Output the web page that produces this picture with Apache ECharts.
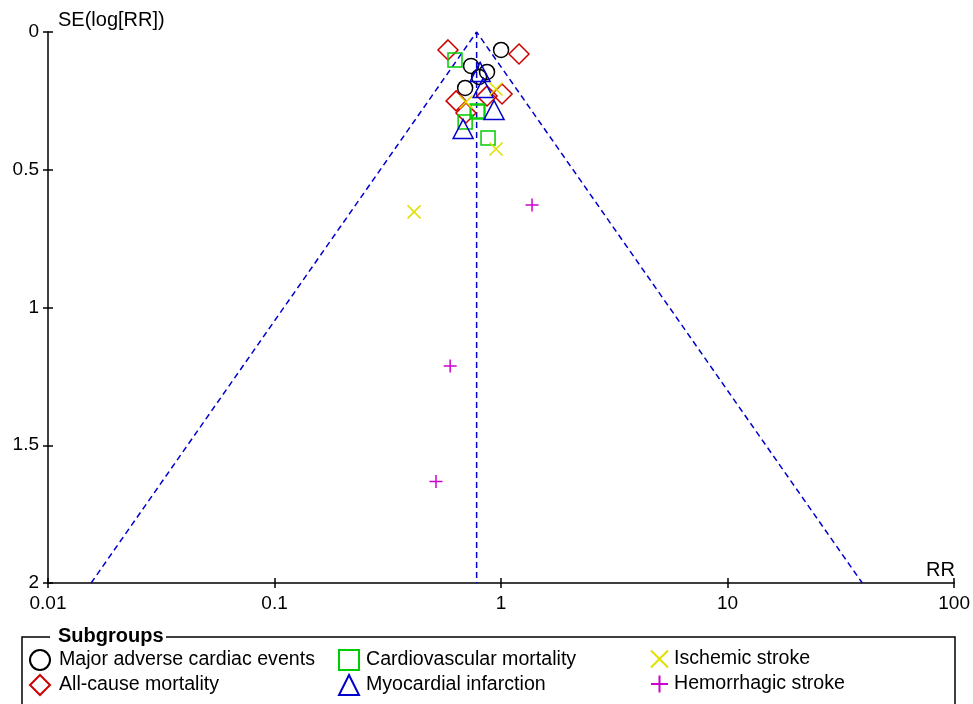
<!DOCTYPE html>
<html>
<head>
<meta charset="utf-8">
<script src="https://cdn.jsdelivr.net/npm/echarts@6/dist/echarts.min.js"></script>
<style>html,body{margin:0;padding:0;background:#fff}#c{width:973px;height:704px}</style>
</head>
<body>
<div id="c"></div>
<script>
var xTickLabels = ['0.01', '0.1', '1', '10', '100'];
var yTickLabels = ['0', '0.5', '1', '1.5', '2'];
var seriesNames = ['Major adverse cardiac events', 'All-cause mortality', 'Cardiovascular mortality', 'Myocardial infarction', 'Ischemic stroke', 'Hemorrhagic stroke'];
// [RR, SE(log RR)]
var mace = [[1.00, 0.065], [0.737, 0.123], [0.867, 0.145], [0.80, 0.163], [0.694, 0.203]];
var allCause = [[0.583, 0.065], [1.20, 0.080], [1.01, 0.225], [0.867, 0.232], [0.633, 0.250], [0.70, 0.294]];
var cvMortality = [[0.626, 0.102], [0.784, 0.287], [0.79, 0.290], [0.694, 0.327], [0.876, 0.385]];
var myocardial = [[0.808, 0.145], [0.833, 0.203], [0.931, 0.283], [0.68, 0.352]];
var ischemic = [[0.95, 0.207], [0.70, 0.254], [0.95, 0.425], [0.413, 0.653]];
var hemorrhagic = [[1.37, 0.628], [0.596, 1.212], [0.516, 1.632]];
var funnelSides = [[0.0155, 2], [0.78, 0], [39.3, 2]];
var pooledLine = [[0.78, 0], [0.78, 2]];

var FONT = "'Liberation Sans', Arial, sans-serif";
var colors = ['#000000', '#cd0000', '#00cd00', '#0000cd', '#e0e000', '#cd00cd'];
var symbols = ['circle', 'diamond', 'rect', 'triangle', 'path://M0,0L10,10M10,0L0,10', 'path://M5,0L5,10M0,5L10,5'];
var sizes = [15, [20, 20], 14, [20, 19], 13, 13];
var datasets = [mace, allCause, cvMortality, myocardial, ischemic, hemorrhagic];

var chart = echarts.init(document.getElementById('c'), null, {renderer: 'canvas'});

var scatter = datasets.map(function (d, i) {
  return {
    name: seriesNames[i], type: 'scatter', xAxisIndex: 0, yAxisIndex: 0,
    data: d, symbol: symbols[i], symbolSize: sizes[i], z: 3,
    itemStyle: {color: 'rgba(0,0,0,0)', borderColor: colors[i], borderWidth: 1.5, opacity: 1},
    emphasis: {disabled: true}
  };
});

var lineStyle = {color: '#0000cd', width: 1.5, type: [6, 4]};
var lines = [
  {type: 'line', data: funnelSides, symbol: 'none', lineStyle: lineStyle, z: 2, silent: true},
  {type: 'line', data: pooledLine, symbol: 'none', lineStyle: lineStyle, z: 2, silent: true}
];

function xLabel(v) {
  var idx = Math.round(Math.log10(v) + 2);
  return xTickLabels[idx] !== undefined ? xTickLabels[idx] : '';
}
function yLabel(v) {
  var idx = Math.round(v / 0.5);
  return yTickLabels[idx] !== undefined ? yTickLabels[idx] : '';
}

function legendItem(left, top, name, pad, iw) {
  return {
    data: [name], orient: 'horizontal', left: left, top: top, padding: 0,
    itemWidth: iw, itemHeight: 20, itemGap: 0, selectedMode: false,
    textStyle: {fontFamily: FONT, fontSize: 19.6, color: '#000', padding: [0, 0, 0, pad]}
  };
}

chart.setOption({
  animation: false,
  grid: {left: 48, right: 18, top: 32, bottom: 121, containLabel: false},
  xAxis: [
    {type: 'log', logBase: 10, min: 0.01, max: 100, position: 'bottom',
     axisLine: {show: true, onZero: false, lineStyle: {color: '#000', width: 1.5}},
     axisTick: {show: true, length: 5, lineStyle: {color: '#000', width: 1.5}},
     axisLabel: {formatter: xLabel, fontFamily: FONT, fontSize: 19, color: '#000', margin: 11, showMinLabel: true, showMaxLabel: true},
     splitLine: {show: false}, minorTick: {show: false}},
    {type: 'log', logBase: 10, min: 0.01, max: 100, position: 'bottom',
     axisLine: {show: false, onZero: false},
     axisTick: {show: true, inside: true, length: 5, lineStyle: {color: '#000', width: 1.5}},
     axisLabel: {show: false}, splitLine: {show: false}}
  ],
  yAxis: [
    {type: 'value', min: 0, max: 2, interval: 0.5, inverse: true, position: 'left',
     axisLine: {show: true, onZero: false, lineStyle: {color: '#000', width: 1.5}},
     axisTick: {show: true, length: 5, lineStyle: {color: '#000', width: 1.5}},
     axisLabel: {formatter: yLabel, fontFamily: FONT, fontSize: 19, color: '#000', margin: 9},
     splitLine: {show: false}},
    {type: 'value', min: 0, max: 2, interval: 0.5, inverse: true, position: 'left',
     axisLine: {show: false, onZero: false},
     axisTick: {show: true, inside: true, length: 5, lineStyle: {color: '#000', width: 1.5}},
     axisLabel: {show: false}, splitLine: {show: false}}
  ],
  legend: [
    legendItem(29, 649, seriesNames[0], 4, 20),
    legendItem(29, 674, seriesNames[1], 4, 20),
    legendItem(338, 649, seriesNames[2], 2, 20),
    legendItem(338, 674, seriesNames[3], 2, 20),
    legendItem(650, 649, seriesNames[4], 1, 17),
    legendItem(650, 674, seriesNames[5], 1, 17)
  ],
  graphic: [
    {type: 'text', left: 58, top: 10, style: {text: 'SE(log[RR])', font: "20px " + FONT, fill: '#000'}},
    {type: 'text', right: 18, top: 560, style: {text: 'RR', font: "20px " + FONT, fill: '#000'}},
    {type: 'text', left: 58, top: 626, style: {text: 'Subgroups', font: "bold 20px " + FONT, fill: '#000'}},
    {type: 'polyline', shape: {points: [[50, 637], [22, 637], [22, 712]]}, style: {stroke: '#000', lineWidth: 1.5, fill: null}},
    {type: 'polyline', shape: {points: [[166, 637], [955, 637], [955, 712]]}, style: {stroke: '#000', lineWidth: 1.5, fill: null}}
  ],
  series: lines.concat(scatter)
});
</script>
</body>
</html>
